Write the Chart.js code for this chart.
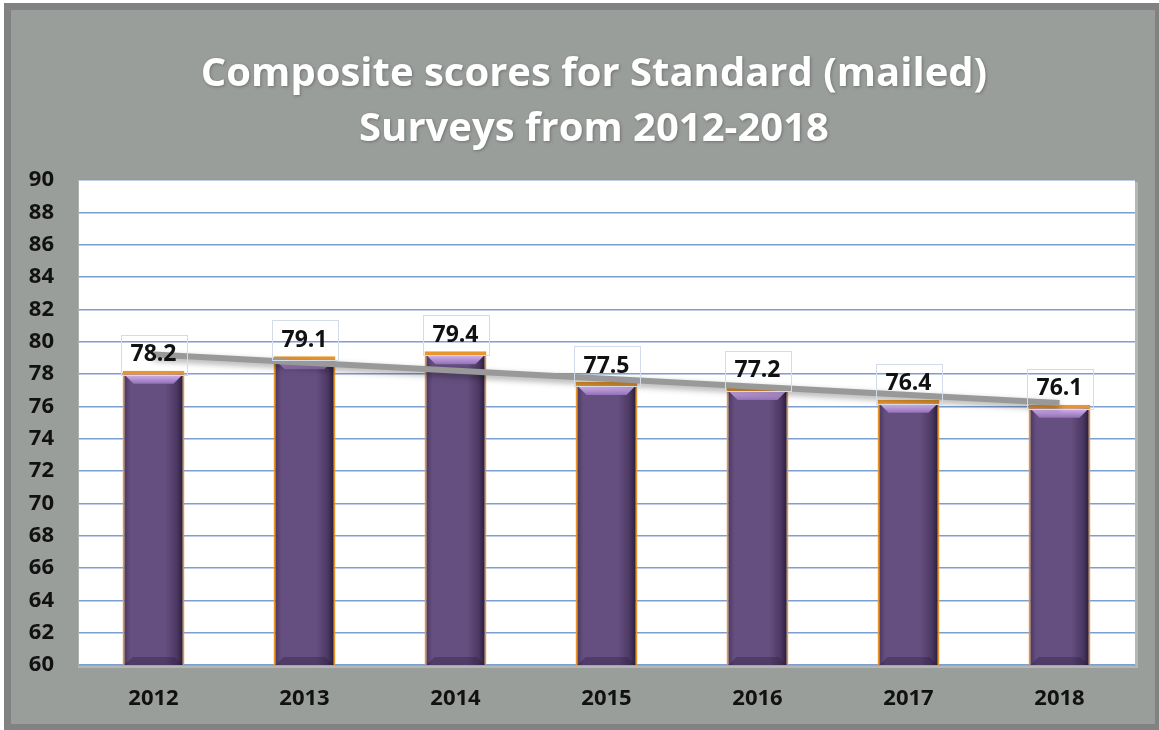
<!DOCTYPE html>
<html>
<head>
<meta charset="utf-8">
<title>Composite scores</title>
<script src="https://cdn.jsdelivr.net/npm/chart.js@4.4.0/dist/chart.umd.min.js"></script>
<style>
  html, body { margin: 0; padding: 0; background: #fff; }
  #wrap { width: 1159px; height: 730px; position: relative; }
</style>
</head>
<body>
<div id="wrap"><canvas id="scoreChart" width="1159" height="730"></canvas></div>
<script>
const years = ["2012", "2013", "2014", "2015", "2016", "2017", "2018"];
const scores = [78.2, 79.1, 79.4, 77.5, 77.2, 76.4, 76.1];
// linear trend, first and last year only
const trendEnds = [79.2, 76.2];
const titleLines = ["Composite scores for Standard (mailed)", "Surveys from 2012-2018"];

const FONT = "'Open Sans', 'DejaVu Sans', sans-serif";

const trendData = years.map((y, i) => {
  if (i === 0) return trendEnds[0];
  if (i === years.length - 1) return trendEnds[1];
  return null;
});

// frame, grey panel and white plot area
const backdrop = {
  id: "backdrop",
  beforeDraw(chart) {
    const { ctx, width, height, chartArea: a } = chart;
    ctx.save();
    ctx.fillStyle = "#ffffff";
    ctx.fillRect(0, 0, width, height);
    ctx.fillStyle = "#828282";
    ctx.fillRect(4, 3, width - 4, height - 3);
    ctx.fillStyle = "#9a9e9b";
    ctx.fillRect(11, 10, width - 15, height - 16);
    // plot area with a soft shadow on the right
    ctx.fillStyle = "#b5b7b5";
    ctx.fillRect(a.left, a.top + 2, a.right - a.left + 3, a.bottom - a.top + 1);
    ctx.fillStyle = "#ffffff";
    ctx.fillRect(a.left, a.top, a.right - a.left, a.bottom - a.top);
    ctx.restore();
  }
};

// two-line heading
const heading = {
  id: "heading",
  afterDraw(chart) {
    const { ctx } = chart;
    ctx.save();
    ctx.font = "bold 40px " + FONT;
    ctx.fillStyle = "#ffffff";
    ctx.textAlign = "center";
    ctx.textBaseline = "middle";
    ctx.shadowColor = "rgba(60,60,60,0.45)";
    ctx.shadowBlur = 3;
    ctx.shadowOffsetX = 1;
    ctx.shadowOffsetY = 1;
    titleLines.forEach((line, i) => {
      ctx.fillText(line, 594, 75 + i * 55);
    });
    ctx.restore();
  }
};

// bevel and side shading on each bar
const barShade = {
  id: "barShade",
  afterDatasetDraw(chart, args) {
    if (args.index !== 0) return;
    const { ctx, chartArea } = chart;
    ctx.save();
    args.meta.data.forEach((bar) => {
      const w = bar.width - 4;
      const l = bar.x - w / 2;
      const r = bar.x + w / 2;
      const t = bar.y + 4;
      const b = Math.min(bar.base, chartArea.bottom);

      const side = ctx.createLinearGradient(l, 0, r, 0);
      side.addColorStop(0, "rgba(30,15,45,0.35)");
      side.addColorStop(0.1, "rgba(30,15,45,0)");
      side.addColorStop(0.7, "rgba(30,15,45,0)");
      side.addColorStop(0.9, "rgba(30,15,45,0.35)");
      side.addColorStop(1, "rgba(20,10,30,0.7)");
      ctx.fillStyle = side;
      ctx.fillRect(l, t, w, b - t);

      // light top bevel
      const bevel = ctx.createLinearGradient(0, t, 0, t + 10);
      bevel.addColorStop(0, "#d4b2f0");
      bevel.addColorStop(1, "#8a6aae");
      ctx.fillStyle = bevel;
      ctx.beginPath();
      ctx.moveTo(l, t);
      ctx.lineTo(r, t);
      ctx.lineTo(r - 9, t + 9);
      ctx.lineTo(l + 9, t + 9);
      ctx.closePath();
      ctx.fill();

      // dark bottom bevel
      ctx.fillStyle = "rgba(40,25,60,0.35)";
      ctx.beginPath();
      ctx.moveTo(l, b);
      ctx.lineTo(r, b);
      ctx.lineTo(r - 8, b - 8);
      ctx.lineTo(l + 8, b - 8);
      ctx.closePath();
      ctx.fill();
    });
    ctx.restore();
  },
  beforeDatasetDraw(chart, args) {
    if (args.index === 1) {
      const { ctx } = chart;
      ctx.save();
      ctx.shadowColor = "rgba(0,0,0,0.35)";
      ctx.shadowBlur = 6;
      ctx.shadowOffsetY = 3;
    }
  },
  afterDatasetsDraw(chart) {
    // labels in thin boxes above the bars
    const { ctx } = chart;
    const meta = chart.getDatasetMeta(0);
    ctx.save();
    ctx.font = "bold 23px " + FONT;
    ctx.textAlign = "center";
    ctx.textBaseline = "middle";
    meta.data.forEach((bar, i) => {
      const cy = bar.y - 16;
      ctx.strokeStyle = "#d3dce8";
      ctx.lineWidth = 1;
      ctx.strokeRect(Math.round(bar.x - 33) + 0.5, Math.round(cy - 20) + 0.5, 66, 40);
      ctx.fillStyle = "#111111";
      ctx.fillText(scores[i].toFixed(1), bar.x, cy);
    });
    ctx.restore();
  }
};

// close the shadow state opened for the trend line
const trendRestore = {
  id: "trendRestore",
  afterDatasetDraw(chart, args) {
    if (args.index === 1) chart.ctx.restore();
  }
};

new Chart(document.getElementById("scoreChart"), {
  data: {
    labels: years,
    datasets: [
      {
        type: "bar",
        data: scores,
        backgroundColor: "#654f80",
        borderColor: "#e8952c",
        borderWidth: { left: 2, right: 2, top: 4, bottom: 0 },
        borderSkipped: "bottom",
        categoryPercentage: 0.82,
        barPercentage: 0.5,
        order: 2
      },
      {
        type: "line",
        data: trendData,
        spanGaps: true,
        borderColor: "#999999",
        borderWidth: 6,
        pointRadius: 0,
        fill: false,
        order: 1
      }
    ]
  },
  options: {
    responsive: false,
    animation: false,
    layout: { padding: { left: 12, right: 24, top: 180, bottom: 17 } },
    plugins: {
      legend: { display: false },
      tooltip: { enabled: false },
      title: { display: false }
    },
    scales: {
      x: {
        afterFit(scale) { scale.height = 48; },
        grid: { display: false, drawTicks: false },
        border: { display: true, color: "#a6a6a6", width: 1 },
        ticks: {
          color: "#111111",
          font: { family: FONT, size: 22, weight: "bold" },
          padding: 21
        }
      },
      y: {
        min: 60,
        max: 90,
        afterFit(scale) { scale.width = 66; },
        grid: { color: "#7c9fd2", lineWidth: 1.5, drawTicks: false },
        border: { display: true, color: "#b0b0b0", width: 1 },
        ticks: {
          stepSize: 2,
          color: "#111111",
          padding: 24,
          font: { family: FONT, size: 22, weight: "bold" }
        }
      }
    }
  },
  plugins: [backdrop, barShade, trendRestore, heading]
});
</script>
</body>
</html>
